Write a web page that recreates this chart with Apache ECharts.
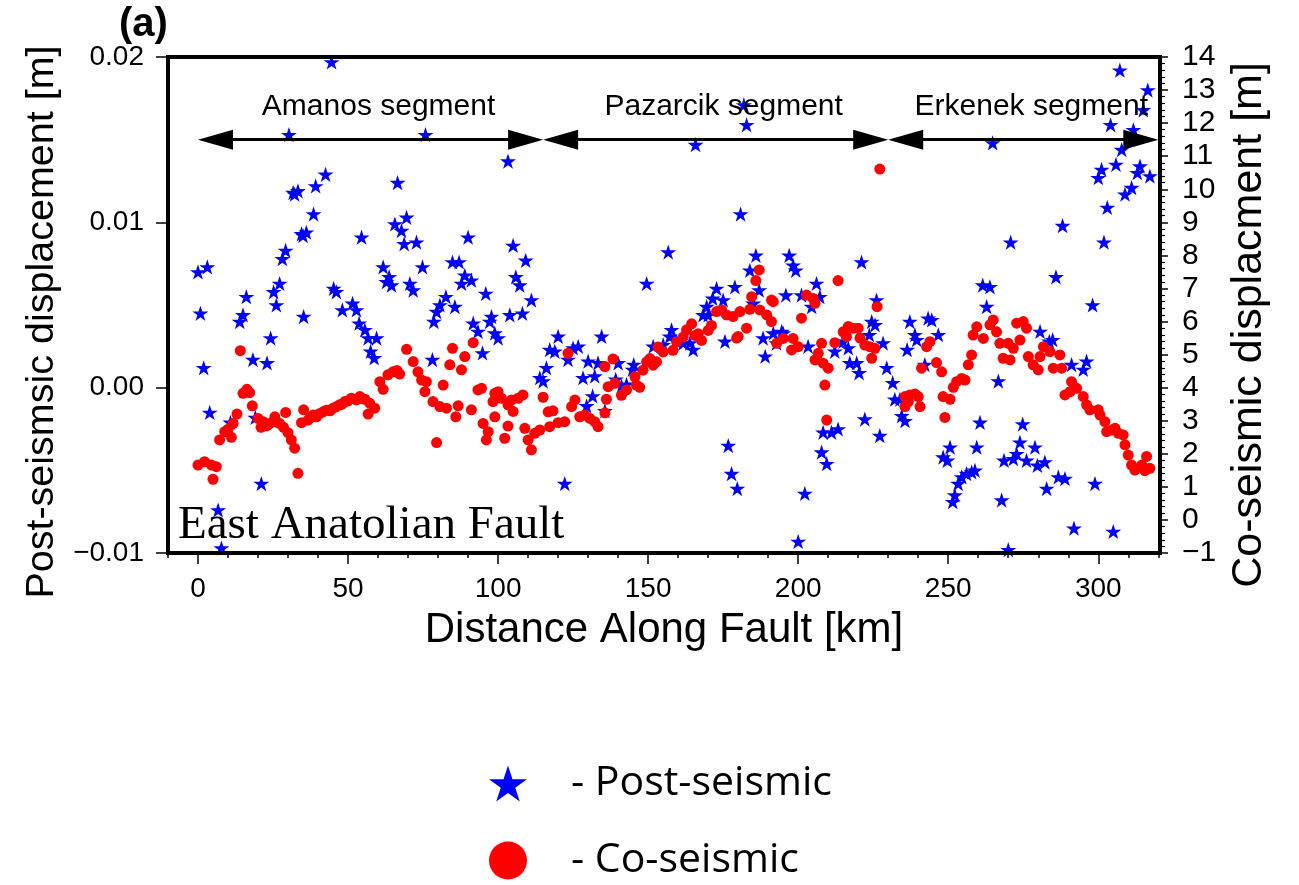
<!DOCTYPE html>
<html><head><meta charset="utf-8">
<script src="https://cdn.jsdelivr.net/npm/echarts@6/dist/echarts.min.js"></script>
<style>html,body{margin:0;padding:0;background:#fff}#c{width:1299px;height:885px}</style>
</head><body><div id="c"></div>
<script>
// ---- data ----
const xTickValues = [0, 50, 100, 150, 200, 250, 300];
const segmentNames = ['Amanos segment', 'Pazarcik segment', 'Erkenek segment'];
const segmentBounds = [0, 115, 230, 320];

// Post-seismic displacement [m] vs distance [km] (left axis)
const postSeismic = [
[44.5,0.0197],[30.3,0.0153],[75.8,0.0153],[42.5,0.0129],[39.2,0.0122],[31.7,0.0118],[33.3,0.0119],[32.2,0.0117],[66.5,0.0124],[38.5,0.0105],[34.5,0.0093],[35.0,0.0092],[36.1,0.0094],[54.5,0.0091],[65.6,0.0099],[69.5,0.0103],[67.8,0.0095],[68.7,0.0087],[72.8,0.0088],[90.0,0.0091],[29.2,0.0083],[28.1,0.0078],[0.0,0.0070],[3.1,0.0073],[61.7,0.0073],[63.7,0.0067],[64.5,0.0062],[62.8,0.0064],[74.8,0.0073],[84.8,0.0076],[87.0,0.0076],[88.9,0.0068],[87.8,0.0063],[91.1,0.0065],[70.6,0.0063],[71.7,0.0059],[95.9,0.0057],[27.2,0.0063],[25.2,0.0058],[26.1,0.0050],[16.1,0.0055],[0.8,0.0045],[15.0,0.0044],[45.2,0.0060],[46.1,0.0058],[51.5,0.0051],[48.1,0.0047],[52.8,0.0047],[82.6,0.0055],[80.6,0.0050],[85.6,0.0049],[79.5,0.0046],[35.2,0.0043],[97.8,0.0043],
[13.9,0.0040],[53.7,0.0039],[55.6,0.0035],[56.7,0.0030],[59.5,0.0030],[57.5,0.0022],[58.7,0.0018],[24.2,0.0030],[18.3,0.0017],[23.0,0.0015],[1.9,0.0012],[3.9,-0.0015],[10.8,-0.0021],[19.1,-0.0018],[21.1,-0.0058],[6.7,-0.0074],[7.8,-0.0097],[78.1,0.0017],[78.6,0.0040],[91.7,0.0039],[93.3,0.0034],[94.8,0.0021],[97.2,0.0040],[98.9,0.0033],
[103.3,0.0137],[105.0,0.0086],[109.2,0.0077],[105.9,0.0067],[107.2,0.0062],[111.1,0.0053],[165.8,0.0147],[181.9,0.0171],[182.8,0.0159],[180.8,0.0105],[156.7,0.0082],[149.5,0.0063],[185.9,0.0080],[183.9,0.0071],[187.0,0.0059],[172.8,0.0060],[178.9,0.0061],[171.5,0.0054],[175.0,0.0053],[169.5,0.0049],[168.3,0.0044],[197.0,0.0080],[198.3,0.0074],[199.2,0.0071],[195.9,0.0056],[201.1,0.0056],[206.1,0.0063],[204.5,0.0049],[207.2,0.0055],
[100.0,0.0030],[103.9,0.0044],[108.1,0.0045],[120.0,0.0031],[117.2,0.0023],[118.9,0.0022],[123.3,0.0017],[125.0,0.0024],[126.7,0.0025],[134.5,0.0031],[116.1,0.0012],[113.9,0.0006],[115.0,0.0004],[130.0,0.0016],[133.3,0.0015],[128.3,0.0006],[132.2,0.0007],[131.5,-0.0005],[129.5,-0.0011],[135.6,-0.0014],[140.0,0.0015],[139.2,0.0005],[141.1,0.0001],[142.8,0.0002],[145.2,0.0014],[144.8,0.0011],[122.2,-0.0058],[151.7,0.0025],[155.0,0.0026],[157.8,0.0035],[157.2,0.0031],[159.5,0.0028],[161.7,0.0027],[163.9,0.0027],[165.0,0.0023],[170.0,0.0044],[175.6,0.0028],[176.7,-0.0035],[177.8,-0.0052],[179.7,-0.0061],[185.0,0.0051],[188.3,0.0030],[191.7,0.0033],[194.5,0.0034],[195.0,0.0033],[189.0,0.0019],[192.8,0.0027],[203.3,0.0025],[202.2,-0.0064],[200.0,-0.0093],[208.3,-0.0027],[207.8,-0.0039],[209.5,-0.0046],
[307.2,0.0192],[316.5,0.0180],[315.0,0.0168],[304.1,0.0159],[311.7,0.0156],[264.8,0.0148],[307.8,0.0144],[305.9,0.0135],[301.1,0.0132],[300.0,0.0127],[313.9,0.0134],[313.0,0.0130],[317.2,0.0128],[311.1,0.0121],[308.9,0.0117],[303.0,0.0109],[288.1,0.0098],[301.9,0.0088],[270.8,0.0088],[285.9,0.0067],[298.1,0.0050],[261.5,0.0062],[263.9,0.0061],[262.8,0.0049],[221.1,0.0076],[226.1,0.0053],
[224.5,0.0040],[225.6,0.0038],[223.7,0.0032],[215.0,0.0028],[212.2,0.0022],[216.7,0.0024],[217.2,0.0015],[219.5,0.0015],[220.3,0.0009],[228.3,0.0027],[229.5,0.0012],[231.5,0.0003],[232.2,-0.0007],[233.9,-0.0007],[234.5,-0.0017],[235.6,-0.0020],[237.2,0.0040],[238.9,0.0032],[239.5,0.0029],[236.3,0.0023],[243.3,0.0042],[244.5,0.0041],[246.7,0.0032],[242.2,0.0014],[222.2,-0.0019],[227.2,-0.0029],[211.1,-0.0027],[213.3,-0.0025],[266.7,0.0004],[260.6,-0.0021],[250.6,-0.0036],[259.5,-0.0036],[248.3,-0.0042],[249.7,-0.0044],[251.5,-0.0069],[252.2,-0.0065],[253.3,-0.0058],[254.5,-0.0054],[256.1,-0.0052],[257.8,-0.0051],[258.9,-0.0050],[267.8,-0.0068],[270.0,-0.0098],[268.6,-0.0044],[271.7,-0.0043],[272.8,-0.0040],[273.9,-0.0033],[274.8,-0.0022],[276.1,-0.0044],[278.9,-0.0036],[279.7,-0.0047],[282.2,-0.0045],[282.8,-0.0061],[286.7,-0.0054],[288.9,-0.0055],[280.6,0.0034],[283.7,0.0028],[284.8,0.0029],[291.1,0.0014],[295.0,0.0011],[296.1,0.0016],[291.9,-0.0085],[305.0,-0.0087],[298.9,-0.0058]
];

// Co-seismic displacement [m] vs distance [km] (right axis)
const coSeismic = [
[0.0,1.66],[2.2,1.76],[4.5,1.66],[6.1,1.61],[5.0,1.23],[7.2,2.42],[8.9,2.67],[11.1,2.50],[10.0,2.74],[11.7,2.92],[13.0,3.20],[14.1,5.12],[15.0,3.83],[16.3,3.95],[17.2,3.85],[18.1,3.45],[20.0,3.07],[21.7,2.97],[23.9,2.92],[25.6,3.12],[27.2,2.92],[29.2,3.25],[30.0,2.64],[31.1,2.42],[32.2,2.17],[33.3,1.41],[35.2,3.33],[34.5,2.94],[36.7,3.02],[21.0,2.80],[23.0,2.85],[26.5,2.95],[28.5,2.80],
[37.5,3.10],[38.4,3.17],[39.5,3.12],[40.6,3.22],[41.7,3.27],[42.8,3.32],[44.0,3.30],[45.0,3.38],[46.0,3.42],[47.2,3.48],[48.0,3.50],[48.9,3.58],[50.0,3.60],[51.1,3.68],[52.8,3.63],[53.9,3.73],[54.5,3.68],[55.6,3.65],[57.2,3.53],[58.9,3.38],[56.7,3.20],
[60.6,4.18],[61.7,3.95],[63.3,4.39],[65.0,4.48],[66.3,4.52],[67.2,4.41],[69.5,5.16],[71.7,4.79],[73.3,4.48],[74.5,4.23],[76.1,4.18],[75.6,3.88],[78.3,3.58],[80.6,3.43],[82.8,3.38],[81.7,4.08],[79.5,2.34],[84.8,5.19],[83.9,4.69],[87.8,4.54],[88.9,4.94],[86.7,3.45],[85.9,3.12],[91.7,5.36],[91.1,3.33],[93.3,3.93],[94.5,3.98],[95.0,2.92],[96.7,2.67],[96.1,2.42],[98.9,3.83],[98.3,3.58],[98.9,3.12],
[100.0,3.88],[101.1,3.68],[103.3,3.48],[105.0,3.28],[104.5,3.63],[106.7,3.68],[108.3,3.78],[103.3,2.84],[102.2,2.47],[108.9,2.77],[110.0,2.42],[111.1,2.12],[112.2,2.62],[113.9,2.72],[115.0,3.71],[116.7,3.27],[118.3,3.30],[117.2,2.82],[120.0,2.94],[122.2,2.97],[123.3,5.04],[124.5,3.43],[125.6,3.63],[127.2,3.12],[128.9,3.17],[130.6,3.07],[132.2,2.97],[133.3,2.82],[135.6,3.24],[136.1,3.65],[135.6,4.64],[138.3,4.87],[136.7,4.03],[138.9,4.13],[141.1,3.77],[142.8,3.93],[146.1,4.08],[147.2,4.01],[145.6,4.33],[148.3,4.53],[149.5,4.78],[150.6,4.88],[151.7,4.68],[152.8,4.78],[153.3,5.23],[155.0,5.08],[158.3,5.13],[159.5,5.38],[161.7,5.53],[162.8,5.75],[164.5,5.93],[165.6,5.58],[166.7,5.63],[167.8,5.43],[170.0,5.73],[171.1,5.88],[172.8,6.30],[174.5,6.35],[176.1,6.20],[178.3,6.15],[180.6,6.30],[182.8,5.80],[180.0,5.55],[179.5,5.50],[187.2,6.35],[189.5,6.20],[191.1,6.00],[191.7,6.60],[192.8,5.34],[195.0,5.49],[197.8,5.14],[198.3,5.49],[200.0,5.24],[201.1,6.10],[207.8,5.34],[206.7,5.04],[205.6,4.84],[208.3,4.74],[210.0,4.59],[208.9,4.08],[209.5,3.02],
[187.0,7.56],[185.9,7.24],[184.5,6.75],[191.1,6.65],[183.9,6.37],[202.8,6.80],[205.0,6.70],[205.6,6.55],[227.2,10.61],[213.3,7.24],[226.3,6.45],
[212.2,5.36],[215.0,5.69],[216.7,5.85],[216.1,5.55],[218.3,5.80],[220.0,5.80],[220.6,5.50],[222.2,5.29],[223.9,5.24],[225.6,5.19],[224.5,4.89],
[235.6,3.73],[237.2,3.78],[238.9,3.81],[240.0,3.73],[240.6,3.43],[235.6,3.43],[236.7,3.58],[241.1,4.59],[242.8,5.24],[243.9,5.39],[246.1,4.76],[247.8,4.48],[248.9,3.10],[248.3,3.73],[250.6,3.65],[251.7,4.01],[252.8,4.18],[254.5,4.28],[255.6,4.23],[256.7,4.69],[257.8,4.99],[258.3,5.59],[259.5,5.84],[261.7,5.49],[263.9,5.90],[265.0,6.05],[266.1,5.69],[267.2,5.34],[268.3,4.89],[270.0,5.34],[270.6,4.84],[271.7,5.19],[272.8,5.95],[273.9,5.44],[275.0,6.00],[276.1,5.80],[276.7,4.94],[278.3,4.69],[280.0,4.54],[280.6,4.94],[281.7,5.24],[283.9,5.09],[285.0,4.59],[287.2,4.99],[287.8,4.59],[288.9,3.78],[290.6,3.88],[291.1,4.18],[292.8,3.98],[295.0,3.73],[296.1,3.48],[297.2,3.33],[300.0,3.33],[300.6,3.17],[302.2,2.97],[302.8,2.67],[304.5,2.72],[305.6,2.77],[306.7,2.62],[308.3,2.57],[308.9,2.27],[310.0,1.96],[311.1,1.66],[312.2,1.51],[314.5,1.66],[316.1,1.92],[317.2,1.56],[315.5,1.49]
];

// ---- chart ----
const STAR = 'path://M50,0L61.23,34.55L97.55,34.55L68.17,55.9L79.39,90.45L50,69.1L20.61,90.45L31.83,55.9L2.45,34.55L38.77,34.55Z';
const SANS = 'Liberation Sans';
const ARROW_Y = 0.015, LABEL_Y = 0.017, HALF_HEAD = 5.83;
const minorTicks = [];
for (let v = -10; v <= 320; v += 10) minorTicks.push(v);
const fmtMinus = (v, d) => (v < 0 ? '\u2212' : '') + Math.abs(v).toFixed(d);
const noLine = {show: false, onZero: false};

const chart = echarts.init(document.getElementById('c'), null, {renderer: 'canvas'});
chart.setOption({
  animation: false,
  backgroundColor: '#fff',
  grid: {left: 168, right: 139, top: 57, bottom: 332, show: true, borderColor: '#000', borderWidth: 4, backgroundColor: 'transparent', z: 5},
  legend: {
    orient: 'vertical', left: 489, top: 763, padding: 0, itemWidth: 38, itemHeight: 38, itemGap: 36,
    symbolKeepAspect: true,
    formatter: n => '- ' + n,
    textStyle: {fontFamily: 'Open Sans', fontSize: 41, color: '#000', lineHeight: 38, padding: [0, 0, 0, 39]},
    data: [{name: 'Post-seismic', icon: STAR}, {name: 'Co-seismic', icon: 'circle'}]
  },
  xAxis: [{
    type: 'value', min: -10, max: 320.57, position: 'bottom',
    splitLine: {show: false}, axisLine: noLine,
    axisTick: {show: true, customValues: xTickValues, length: 11, lineStyle: {color: '#000', width: 1.5}},
    axisLabel: {customValues: xTickValues, margin: 22, color: '#000', fontSize: 28, fontFamily: SANS},
    name: 'Distance Along Fault [km]', nameLocation: 'middle', nameGap: 56,
    nameTextStyle: {color: '#000', fontSize: 42, fontFamily: SANS}
  }, {
    type: 'value', min: -10, max: 320.57, position: 'bottom',
    splitLine: {show: false}, axisLine: noLine, axisLabel: {show: false},
    axisTick: {show: true, customValues: minorTicks, length: 5, lineStyle: {color: '#000', width: 1.5}}
  }],
  yAxis: [{
    type: 'value', min: -0.01, max: 0.02, interval: 0.01, position: 'left',
    splitLine: {show: false}, axisLine: noLine,
    axisTick: {show: true, length: 12, lineStyle: {color: '#000', width: 1.5}},
    axisLabel: {margin: 24, color: '#000', fontSize: 28, fontFamily: SANS, formatter: v => fmtMinus(v, 2)},
    name: 'Post-seismsic displacement [m]', nameLocation: 'middle', nameGap: 100,
    nameTextStyle: {color: '#000', fontSize: 39.5, fontFamily: SANS, padding: [0, 34, 0, 0]}
  }, {
    type: 'value', min: -1, max: 14, interval: 1, position: 'right',
    splitLine: {show: false}, axisLine: noLine,
    axisTick: {show: true, length: 8, lineStyle: {color: '#000', width: 1.5}},
    minorTick: {show: true, splitNumber: 5, length: 5, lineStyle: {color: '#000', width: 1.2}},
    axisLabel: {margin: 22, color: '#000', fontSize: 30, fontFamily: SANS, formatter: v => fmtMinus(v, 0)},
    name: 'Co-seismic displacment [m]', nameLocation: 'middle', nameGap: 68,
    nameTextStyle: {color: '#000', fontSize: 43, fontFamily: SANS, padding: [0, 40, 0, 0]}
  }],
  series: [{
    name: 'Post-seismic', type: 'scatter', xAxisIndex: 0, yAxisIndex: 0,
    symbol: STAR, symbolKeepAspect: true, symbolSize: 16,
    itemStyle: {color: '#0000ff', opacity: 1},
    data: postSeismic,
    markLine: {
      silent: true, animation: false,
      symbol: ['triangle', 'triangle'], symbolSize: [20, 35],
      lineStyle: {color: '#000', width: 3, type: 'solid'},
      itemStyle: {color: '#000'},
      label: {show: false}, emphasis: {disabled: true},
      data: segmentBounds.slice(0, -1).map((b, i) => [
        {coord: [b + HALF_HEAD, ARROW_Y]}, {coord: [segmentBounds[i + 1] - HALF_HEAD, ARROW_Y]}
      ])
    },
    markPoint: {
      silent: true, animation: false, symbol: 'circle', symbolSize: 1,
      itemStyle: {color: 'rgba(0,0,0,0)'},
      label: {show: true, position: 'inside', offset: [8, 0], formatter: p => p.name, color: '#000', fontSize: 30, fontFamily: SANS},
      data: segmentNames.map((n, i) => ({name: n, coord: [(segmentBounds[i] + segmentBounds[i + 1]) / 2, LABEL_Y]}))
    }
  }, {
    name: 'Co-seismic', type: 'scatter', xAxisIndex: 0, yAxisIndex: 1,
    symbol: 'circle', symbolSize: 11,
    itemStyle: {color: '#ff0000', opacity: 1},
    data: coSeismic
  }],
  graphic: [
    {type: 'text', left: 119, top: 5, style: {text: '(a)', fontFamily: SANS, fontWeight: 'bold', fontSize: 40, fill: '#000'}},
    {type: 'text', x: 178, y: 526, style: {text: 'East Anatolian Fault', fontFamily: 'Liberation Serif', fontSize: 47, fill: '#000', verticalAlign: 'middle', align: 'left'}, z: 10}
  ]
});
</script>
</body></html>
